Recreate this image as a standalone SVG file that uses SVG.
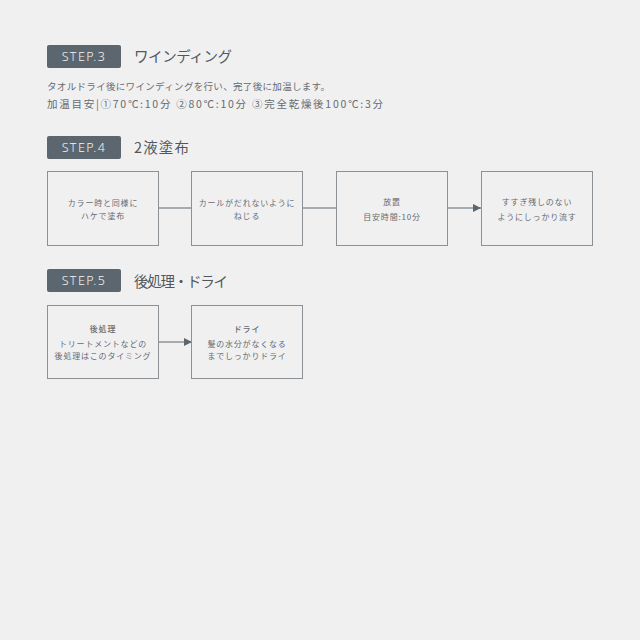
<svg xmlns="http://www.w3.org/2000/svg" width="640" height="640" viewBox="0 0 640 640">
<style>
.bg{fill:#f1f0f1}
.tag{fill:#5b666e}
.tagt{fill:#f4f4f4;font-family:"Noto Sans","Noto Sans CJK JP",sans-serif;font-weight:300;font-size:12.5px;letter-spacing:1.4px;text-anchor:middle}
.title{fill:#50585e;font-family:"Noto Sans CJK JP",sans-serif;font-weight:400;font-size:14.5px}
.body{fill:#656b70;font-family:"Noto Sans CJK JP",sans-serif;font-weight:400}
.box{fill:none;stroke:#8c9195;stroke-width:1}
.bt{fill:#656b70;font-family:"Noto Sans CJK JP",sans-serif;font-weight:400;font-size:8px;letter-spacing:0.8px;text-anchor:middle}
.bb{font-weight:500}
.ln{stroke:#5b666e;stroke-width:1.2;fill:none}
</style>
<defs>
<marker id="ah" markerWidth="8" markerHeight="8" refX="8" refY="4" orient="auto" markerUnits="userSpaceOnUse">
<path d="M0,0 L8,4 L0,8 Z" fill="#5b666e"/>
</marker>
</defs>
<rect class="bg" x="0" y="0" width="640" height="640"/>

<g id="step3">
<rect class="tag" x="47" y="45" width="74" height="23" rx="2"/>
<text class="tagt" x="84" y="61">STEP.3</text>
<text class="title" x="134" y="62" textLength="98" lengthAdjust="spacing">ワインディング</text>
<text class="body" x="47" y="90" font-size="9.5" textLength="283" lengthAdjust="spacing">タオルドライ後にワインディングを行い、完了後に加温します。</text>
<text class="body" x="47" y="108" font-size="10.5" textLength="336" lengthAdjust="spacing">加温目安|①70℃:10分 ②80℃:10分 ③完全乾燥後100℃:3分</text>
</g>

<g id="step4">
<rect class="tag" x="47" y="136" width="74" height="23" rx="2"/>
<text class="tagt" x="84" y="152">STEP.4</text>
<text class="title" x="134" y="153" textLength="55" lengthAdjust="spacing">2液塗布</text>
</g>

<g id="connectors">
<line class="ln" x1="158" y1="208" x2="192" y2="208"/>
<line class="ln" x1="303" y1="208" x2="336" y2="208"/>
<line class="ln" x1="447" y1="208" x2="481" y2="208" marker-end="url(#ah)"/>
<line class="ln" x1="158" y1="342" x2="192" y2="342" marker-end="url(#ah)"/>
</g>

<g id="n1">
<rect class="box" x="47.5" y="171.5" width="111" height="74"/>
<text class="bt" x="103" y="206">カラー時と同様に</text>
<text class="bt" x="103" y="219">ハケで塗布</text>
</g>
<g id="n2">
<rect class="box" x="191.5" y="171.5" width="111" height="74"/>
<text class="bt" x="247" y="206">カールがだれないように</text>
<text class="bt" x="247" y="219">ねじる</text>
</g>
<g id="n3">
<rect class="box" x="336.5" y="171.5" width="111" height="74"/>
<text class="bt" x="392" y="205">放置</text>
<text class="bt" x="392" y="220">目安時間:10分</text>
</g>
<g id="n4">
<rect class="box" x="481.5" y="171.5" width="111" height="74"/>
<text class="bt" x="537" y="205">すすぎ残しのない</text>
<text class="bt" x="537" y="220">ようにしっかり流す</text>
</g>

<g id="step5">
<rect class="tag" x="47" y="269" width="74" height="23" rx="2"/>
<text class="tagt" x="84" y="285">STEP.5</text>
<text class="title" x="134" y="287" textLength="94" lengthAdjust="spacing">後処理・ドライ</text>
</g>
<g id="n5">
<rect class="box" x="47.5" y="305.5" width="111" height="73"/>
<text class="bt bb" x="103" y="332">後処理</text>
<text class="bt" x="103" y="347">トリートメントなどの</text>
<text class="bt" x="103" y="359">後処理はこのタイミング</text>
</g>
<g id="n6">
<rect class="box" x="191.5" y="305.5" width="111" height="73"/>
<text class="bt bb" x="247" y="332">ドライ</text>
<text class="bt" x="247" y="347">髪の水分がなくなる</text>
<text class="bt" x="247" y="359">までしっかりドライ</text>
</g>
</svg>
